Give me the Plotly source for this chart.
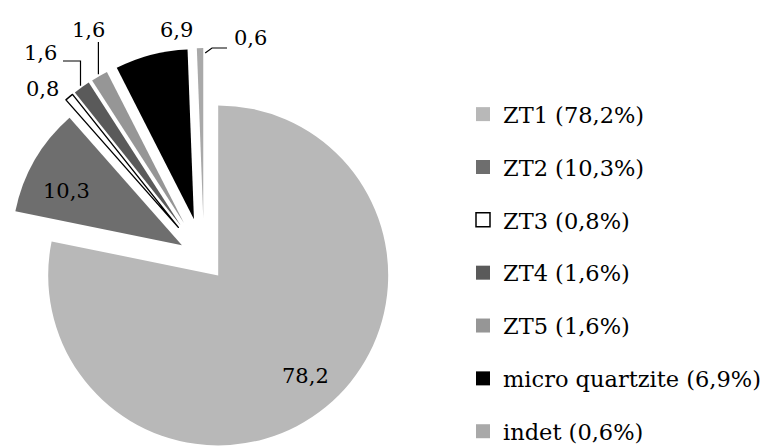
import math
import plotly.graph_objects as go

# ---- data -------------------------------------------------------------
CATEGORIES = ["ZT1", "ZT2", "ZT3", "ZT4", "ZT5", "micro quartzite", "indet"]
SHARES = [78.2, 10.3, 0.8, 1.6, 1.6, 6.9, 0.6]

# ---- styling ----------------------------------------------------------
FILLS = ["#b8b8b8", "#6e6e6e", "#ffffff", "#5a5a5a", "#969696", "#000000", "#a9a9a9"]
OUTLINES = ["rgba(0,0,0,0)", "rgba(0,0,0,0)", "#000000", "rgba(0,0,0,0)",
            "rgba(0,0,0,0)", "rgba(0,0,0,0)", "rgba(0,0,0,0)"]
PULLS = [0.132, 0.15, 0.235, 0.235, 0.235, 0.235, 0.235]   # explode, fraction of radius
FONT = "DejaVu Serif"
CLEAR = "rgba(0,0,0,0)"

W, H = 764, 446
R = 170            # pie radius, px
CX, CY = 204, 258  # pie centre before exploding, px


def fmt(v):
    return f"{v:.1f}".replace(".", ",")


total = sum(SHARES)
mids = []
acc = 0.0
for v in SHARES:
    a0 = acc / total * 360.0
    acc += v
    a1 = acc / total * 360.0
    mids.append((a0 + a1) / 2)


def unit(deg):
    # clockwise from 12 o'clock, screen coordinates (y down)
    t = math.radians(deg)
    return math.sin(t), -math.cos(t)


fig = go.Figure()

# one pie per slice, each placed at its exploded centre
vertices = []
for i, name in enumerate(CATEGORIES):
    ux, uy = unit(mids[i])
    vx = CX + PULLS[i] * R * ux
    vy = CY + PULLS[i] * R * uy
    vertices.append((vx, vy))
    colors = [FILLS[j] if j == i else CLEAR for j in range(len(CATEGORIES))]
    lines = [OUTLINES[j] if j == i else CLEAR for j in range(len(CATEGORIES))]
    fig.add_trace(go.Pie(
        labels=CATEGORIES,
        values=SHARES,
        sort=False,
        direction="clockwise",
        rotation=0,
        marker=dict(colors=colors, line=dict(color=lines, width=1.4)),
        textinfo="none",
        hoverinfo="label+value",
        showlegend=False,
        domain=dict(
            x=[max(0.0, (vx - R) / W), min(1.0, (vx + R) / W)],
            y=[max(0.0, 1 - (vy + R) / H), min(1.0, 1 - (vy - R) / H)],
        ),
    ))

# legend entries
for i, name in enumerate(CATEGORIES):
    outlined = OUTLINES[i] != CLEAR
    fig.add_trace(go.Scatter(
        x=[None], y=[None], mode="markers",
        name=f"{name} ({fmt(SHARES[i])}%)",
        legendgroup=name,
        marker=dict(symbol="square", size=14, color=FILLS[i],
                    line=dict(color="#000000" if outlined else FILLS[i],
                              width=1.5 if outlined else 0)),
        xaxis="x", yaxis="y",
    ))

# value labels
label_pos = {0: (305, 376), 1: (66, 191), 2: (42, 89), 3: (40, 53),
             4: (88, 30), 5: (176, 30), 6: (250, 38)}
annotations = []
for i, (x, y) in label_pos.items():
    annotations.append(dict(
        x=x, y=y, xref="x", yref="y", text=fmt(SHARES[i]), showarrow=False,
        font=dict(family=FONT, size=21, color="#000000"),
        xanchor="center", yanchor="middle",
    ))

# leader lines from outside labels to their slices
shapes = []


def outer_point(i, extra=2.0):
    vx, vy = vertices[i]
    ux, uy = unit(mids[i])
    return vx + (R + extra) * ux, vy + (R + extra) * uy


px4, py4 = outer_point(3)
shapes.append(dict(type="path", xref="x", yref="y",
                   path=f"M 63,61 L {px4:.1f},61 L {px4:.1f},{py4:.1f}",
                   line=dict(color="#000000", width=1.2)))
px5, py5 = outer_point(4)
shapes.append(dict(type="path", xref="x", yref="y",
                   path=f"M {px5:.1f},42 L {px5:.1f},{py5:.1f}",
                   line=dict(color="#000000", width=1.2)))
vx7, vy7 = vertices[6]
shapes.append(dict(type="path", xref="x", yref="y",
                   path=f"M 227,48 L 212,48 L {vx7 + 2:.1f},{vy7 - R + 5:.1f}",
                   line=dict(color="#000000", width=1.2)))

fig.update_layout(
    width=W, height=H,
    margin=dict(l=0, r=0, t=0, b=0, pad=0, autoexpand=False),
    paper_bgcolor="#ffffff",
    plot_bgcolor="rgba(0,0,0,0)",
    font=dict(family=FONT, color="#000000"),
    xaxis=dict(range=[0, W], visible=False, fixedrange=True, domain=[0, 1]),
    yaxis=dict(range=[H, 0], visible=False, fixedrange=True, domain=[0, 1]),
    showlegend=True,
    legend=dict(
        x=463 / W, y=1 - 93 / H, xanchor="left", yanchor="top",
        font=dict(family=FONT, size=22.5, color="#000000"),
        bgcolor="rgba(0,0,0,0)", borderwidth=0,
        tracegroupgap=20.6, itemclick=False, itemdoubleclick=False,
    ),
    annotations=annotations,
    shapes=shapes,
)

fig.write_html("out.html")
